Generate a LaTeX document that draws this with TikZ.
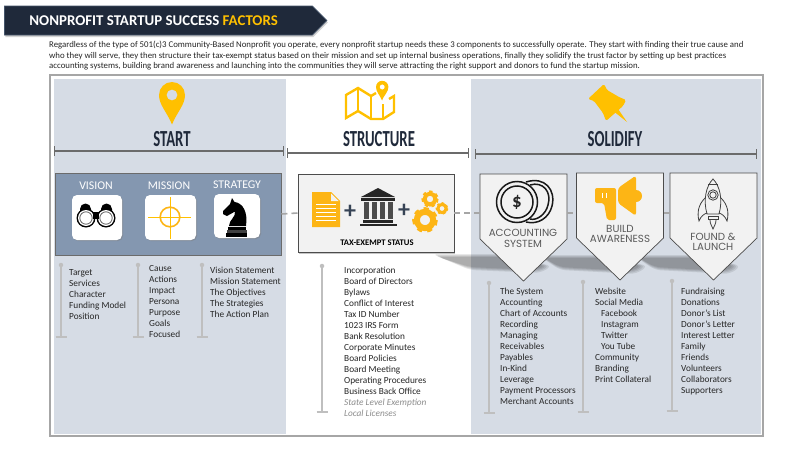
\documentclass[tikz,border=0pt]{standalone}
\usepackage{fontspec}
\setmainfont{Carlito}
\newfontfamily\tagfont{Poppins}
\usetikzlibrary{positioning,arrows.meta,shapes.symbols,shadows,calc}
\definecolor{navybar}{RGB}{31,41,58}
\definecolor{barrim}{RGB}{68,84,106}
\definecolor{goldtext}{RGB}{255,192,0}
\definecolor{goldicon}{RGB}{253,181,21}
\definecolor{panelblue}{RGB}{214,220,229}
\definecolor{startblue}{RGB}{132,151,176}
\definecolor{framegray}{RGB}{166,166,166}
\definecolor{rulegray}{RGB}{107,107,107}
\definecolor{listgray}{RGB}{191,191,191}
\definecolor{softgray}{RGB}{242,242,242}
\newcommand{\headtext}[1]{\scalebox{.64}[1]{#1}}
\newcommand{\gearicon}[3]{%
  \draw[goldicon,line width=#3*.5] (#1,#2) circle (#3*.68);
  \draw[goldicon,line width=#3*.3,dash pattern=on #3*.42 off #3*.42] (#1,#2) circle (#3*.92);}
\tikzset{
  titlebar/.style={signal,signal to=east,signal pointer angle=90,fill=navybar,draw=barrim,line width=.8pt,
    text width=258pt,inner xsep=25pt,inner ysep=0pt,minimum height=29pt,drop shadow={opacity=.35,shadow xshift=1pt,shadow yshift=-2pt}},
  heading/.style={font=\fontsize{23}{23}\selectfont\bfseries,text=navybar,inner sep=0pt},
  rangeline/.style={{Bar[width=10pt,line width=1pt]}-{Bar[width=10pt,line width=1pt]},rulegray,line width=1.5pt},
  tile/.style={fill=white,rounded corners=5pt,drop shadow={opacity=.45,shadow xshift=1pt,shadow yshift=-1pt},inner sep=0pt},
  tilelabel/.style={font=\fontsize{11.8}{12}\selectfont,text=white,inner sep=0pt},
  taglabel/.style={font=\tagfont\fontsize{10.3}{10.6}\selectfont,text=black!65,align=center,inner sep=0pt},
  tagbox/.style={signal,signal to=south,signal pointer angle=92,fill=softgray,draw=black!70,line width=.7pt,inner sep=0pt,minimum width=87pt,minimum height=65pt},
  linkline/.style={framegray,line width=1.6pt,dash pattern=on 6pt off 4pt},
  listtext/.style={font=\fontsize{9.3}{11}\selectfont,text=black!85,align=left,anchor=north west,inner sep=0pt},
  bardot/.style={circle,fill=listgray,minimum size=4.5pt,inner sep=0pt},
  barline/.style={listgray,line width=1.4pt}
}
\newcommand{\listbar}[4]{%
  \node[bardot] (#1top) at (#2,#3) {};
  \coordinate (#1end) at (#2,#4);
  \draw[barline] (#1top) -- (#1end);
  \draw[barline] ($(#1end)+(-5.5,0)$) -- ($(#1end)+(5.5,0)$);}
\begin{document}
\begin{tikzpicture}[x=1pt,y=-1pt]
  \useasboundingbox (0,0) rectangle (800,450);
  \fill[white] (0,0) rectangle (800,450);
  % title and intro
  \node[titlebar,anchor=west] (title) at (4,20.5) {\fontsize{14.9}{15}\selectfont\bfseries\color{white}NONPROFIT STARTUP SUCCESS \textcolor{goldtext}{FACTORS}};
  \node[font=\fontsize{8.8}{10.6}\selectfont,text=black!85,align=left,anchor=north west,inner sep=0pt] (intro) at (49,41) {Regardless of the type of 501(c)3 Community-Based  Nonprofit you operate, every nonprofit startup needs these 3 components to successfully operate.  They start with finding their true cause and\\who they will serve, they then structure their tax-exempt status based on their mission  and set up internal business operations, finally they solidify the trust factor by setting up best practices\\accounting systems, building brand awareness and launching into the communities they will serve attracting the right support and donors to fund the startup mission.};
  % panels
  \fill[panelblue] (54,79) rectangle (286,434);
  \fill[panelblue] (471,79) rectangle (761,434);
  \draw[framegray,line width=1.5pt] (50,75) rectangle (763,436);
  % soft shadows under the tags
  \foreach \s in {0,2,4,6}{
    \fill[black,opacity=.09,rounded corners=6pt] (432+\s,254+\s*.5) -- (500,254+\s*.5) -- (552-\s,266) -- (540-\s,273-\s*.5) -- (470,270-\s*.5) -- cycle;
    \fill[black,opacity=.09,rounded corners=6pt] (538+\s,255+\s*.5) -- (600,255+\s*.5) -- (648-\s,266) -- (636-\s,274-\s*.5) -- (560,270-\s*.5) -- cycle;
    \fill[black,opacity=.09,rounded corners=6pt] (633+\s,255+\s*.5) -- (700,255+\s*.5) -- (741-\s,266) -- (730-\s,274-\s*.5) -- (655,270-\s*.5) -- cycle;
  }
  % section headings
  \node[heading] (starthead) at (172,139) {\headtext{START}};
  \node[heading] (structhead) at (379,139) {\headtext{STRUCTURE}};
  \node[heading] (solidhead) at (615,139) {\headtext{SOLIDIFY}};
  \coordinate (startl) at (54,151); \coordinate (startr) at (284,151);
  \coordinate (structl) at (287,153); \coordinate (structr) at (469,153);
  \coordinate (solidl) at (474.5,154); \coordinate (solidr) at (757,154);
  \draw[rangeline] (startl) -- (startr);
  \draw[rangeline,line width=1.2pt] (structl) -- (structr);
  \draw[rangeline] (solidl) -- (solidr);
  % section icons
  \fill[goldtext,even odd rule] (172,124.5) .. controls (167,112) and (159,105) .. (159,95) arc (180:360:13) .. controls (185,105) and (177,112) .. cycle (172,95) circle (5.5);
  \draw[goldtext,line width=2.4pt,line join=miter] (376,93) -- (371,96) -- (358,88) -- (346,95) -- (346,118) -- (358,111) -- (371,119) -- (383,119) -- (394,112) -- (394,96) -- (389,99);
  \draw[goldtext,line width=2.4pt] (358,88) -- (358,111) (371,96) -- (371,119) (383,104) -- (383,119);
  \fill[goldtext,even odd rule] (382,100.5) .. controls (380,95) and (376,92) .. (376,87) arc (180:360:6.2) .. controls (388.4,92) and (384,95) .. cycle (382.2,87) circle (2.6);
  \fill[goldtext,rounded corners=1.5pt] (604,84) -- (607,90) -- (619,97) -- (626,100) -- (623,106) -- (606,121) -- (603,113) -- (594,101) -- (588,99) -- cycle;
  \fill[goldtext] (612,110) -- (616,106) -- (627,122) -- cycle;
  % start box
  \node[fill=startblue,draw=rulegray,line width=1pt,minimum width=226pt,minimum height=82pt,inner sep=0pt] (startbox) at (168,214) {};
  \node[tilelabel] (visionlabel) at (96,186) {VISION};
  \node[tilelabel] (missionlabel) at (169,186) {MISSION};
  \node[tilelabel] (strategylabel) at (237,185) {STRATEGY};
  \node[tile,minimum width=50pt,minimum height=45pt] (visiontile) at (97,217.5) {};
  \node[tile,minimum width=51pt,minimum height=45pt] (missiontile) at (170.5,217.5) {};
  \node[tile,minimum width=46pt,minimum height=44pt] (strategytile) at (237,216) {};
  % binoculars
  \fill[black] (80,209) arc (180:360:5.5) -- (91,214) -- (101,214) -- (101,209) arc (180:360:5.5) -- (112,216) -- (80,216) -- cycle;
  \foreach \bx in {86,106}{
    \fill[black] (\bx,218) circle (9.5);
    \fill[white] (\bx,218) circle (8);
    \draw[black!60,line width=.8pt] (\bx,218) circle (6.2);
  }
  \fill[black] (93,212) rectangle (99,219);
  % crosshair
  \draw[goldtext,line width=.9pt] (148,217) -- (191,217) (170,197) -- (170,239);
  \draw[goldicon,line width=1.6pt] (170,217) circle (9.8);
  % knight
  \fill[black] (232,198) -- (234.5,202) .. controls (243,203) and (248,212) .. (246,226) -- (229,226) .. controls (229,220) and (236,217) .. (235,211.5) -- (227,216) -- (223,214) -- (223,211) -- (230,204) -- cycle;
  \fill[black] (228,227) rectangle (246,229.5);
  \fill[black!75] (227,230) rectangle (246.5,232.5);
  \fill[black] (226,233) rectangle (247,236.5);
  % tax box
  \node[fill=softgray,draw=black!70,line width=.8pt,minimum width=156pt,minimum height=78pt,inner sep=0pt,drop shadow={opacity=.45,shadow xshift=1pt,shadow yshift=-1.5pt}] (taxbox) at (376,213) {};
  \fill[goldicon] (312,192) -- (331,192) -- (340,201) -- (340,227) -- (312,227) -- cycle;
  \fill[softgray] (331,193.5) -- (338.5,201) -- (331,201) -- cycle;
  \foreach \ly in {204,208,212,216,220}{\draw[white,line width=1pt] (316,\ly) -- (336,\ly);}
  \node[font=\fontsize{24}{24}\selectfont\bfseries,text=barrim!80!black,inner sep=0pt] (plusa) at (350,212) {+};
  \fill[black!85] (378,188) -- (395,197) -- (361,197) -- cycle;
  \fill[black!85] (361,198) rectangle (395,200.5);
  \foreach \cx in {364,372,380,388}{\fill[black!70] (\cx,202) rectangle (\cx+5,219);}
  \fill[black!85] (363,220) rectangle (393,222.5);
  \fill[black!85] (360,223.5) rectangle (397,226);
  \node[font=\fontsize{24}{24}\selectfont\bfseries,text=barrim!80!black,inner sep=0pt] (plusb) at (404,211) {+};
  \gearicon{425}{220}{12}
  \gearicon{430}{199}{8}
  \gearicon{442}{208.5}{6}
  \node[font=\fontsize{8.6}{9}\selectfont\bfseries,text=black,inner sep=0pt] (taxlabel) at (377,243) {TAX-EXEMPT STATUS};
  % tags
  \node[tagbox] (acct) at (523.5,206.5) {};
  \node[tagbox] (build) at (620,205.5) {};
  \node[tagbox] (found) at (713.5,205.5) {};
  \node[taglabel] (acctlabel) at (523,238.5) {ACCOUNTING\\SYSTEM};
  \node[taglabel] (buildlabel) at (620,234) {BUILD\\AWARENESS};
  \node[taglabel] (foundlabel) at (713,242) {FOUND \&\\LAUNCH};
  % links
  \draw[linkline] (startbox.east) -- (taxbox.west);
  \draw[linkline] (taxbox.east) -- (taxbox.east -| acct.west);
  \draw[linkline] (taxbox.east -| acct.east) -- (taxbox.east -| build.west);
  \draw[linkline] (taxbox.east -| build.east) -- (taxbox.east -| found.west);
  % coins
  \draw[black!90,line width=1.5pt] (526,182) .. controls (545,176) and (556,190) .. (552,206) .. controls (549,218) and (538,225) .. (526,222);
  \draw[black!90,line width=1.5pt] (530,185) .. controls (543,181) and (552,192) .. (548,205) .. controls (546,214) and (537,221) .. (530,219);
  \draw[black!90,line width=1.5pt] (517,202) circle (20.5) (517,202) circle (16);
  \node[font=\fontsize{19}{19}\selectfont\bfseries,text=black!85,inner sep=0pt] (dollar) at (517,202) {\$};
  % megaphone
  \fill[goldicon,rounded corners=2pt] (595,188) -- (616,188) -- (616,220) -- (607,220) -- (604,203) -- (595,203) -- cycle;
  \draw[white,line width=1pt] (602,193) -- (602,198) (606,193) -- (606,198);
  \fill[goldicon,rounded corners=3pt] (618,188) -- (636,175.5) -- (636,216) -- (618,203) -- cycle;
  \fill[goldicon] (636,196) circle (6);
  % rocket
  \begin{scope}[black!75,line width=.8pt]
    \draw (713,179) .. controls (706,186) and (703,200) .. (707,214) -- (719,214) .. controls (723,200) and (720,186) .. cycle;
    \draw (713,195) circle (5.2) (713,195) circle (3.2);
    \draw (705,198) .. controls (698,205) and (697,213) .. (699,221) .. controls (701,216) and (704,214) .. (707,213);
    \draw (721,198) .. controls (728,205) and (729,213) .. (727,221) .. controls (725,216) and (722,214) .. (719,213);
    \draw (708,216) rectangle (718,219);
    \draw (710,220) .. controls (710,224) and (712,226) .. (713,229) .. controls (714,226) and (716,224) .. (716,220);
    \draw (708,184) -- (718,184);
  \end{scope}
  % lists
  \listbar{visionbar}{61}{265}{337}
  \listbar{missionbar}{138}{265}{337}
  \listbar{strategybar}{202}{265}{337}
  \listbar{taxbar}{322}{266}{412}
  \listbar{acctbar}{489}{283}{413}
  \listbar{buildbar}{583}{282}{412}
  \listbar{foundbar}{672}{281}{411}
  \node[listtext] (visionlist) at (69,269.5) {Target\\Services\\Character\\Funding Model\\Position};
  \node[listtext] (missionlist) at (149,265.5) {Cause\\Actions\\Impact\\Persona\\Purpose\\Goals\\Focused};
  \node[listtext] (strategylist) at (210,267) {Vision Statement\\Mission Statement\\The Objectives\\The Strategies\\The Action Plan};
  \node[listtext] (taxlist) at (344,267) {Incorporation\\Board of Directors\\Bylaws\\Conflict of Interest\\Tax ID Number\\1023  IRS Form\\Bank Resolution\\Corporate Minutes\\Board Policies\\Board Meeting\\Operating Procedures\\Business Back Office\\{\color{black!45}\itshape State Level Exemption}\\{\color{black!45}\itshape Local Licenses}};
  \node[listtext] (acctlist) at (500,288) {The System\\Accounting\\Chart of Accounts\\Recording\\Managing\\Receivables\\Payables\\In-Kind\\Leverage\\Payment Processors\\Merchant Accounts};
  \node[listtext] (buildlist) at (595,288) {Website\\Social Media\\\hspace*{6pt}Facebook\\\hspace*{6pt}Instagram\\\hspace*{6pt}Twitter\\\hspace*{6pt}You Tube\\Community\\Branding\\Print Collateral};
  \node[listtext] (foundlist) at (681,288) {Fundraising\\Donations\\Donor's List\\Donor's Letter\\Interest Letter\\Family\\Friends\\Volunteers\\Collaborators\\Supporters};
\end{tikzpicture}
\end{document}
